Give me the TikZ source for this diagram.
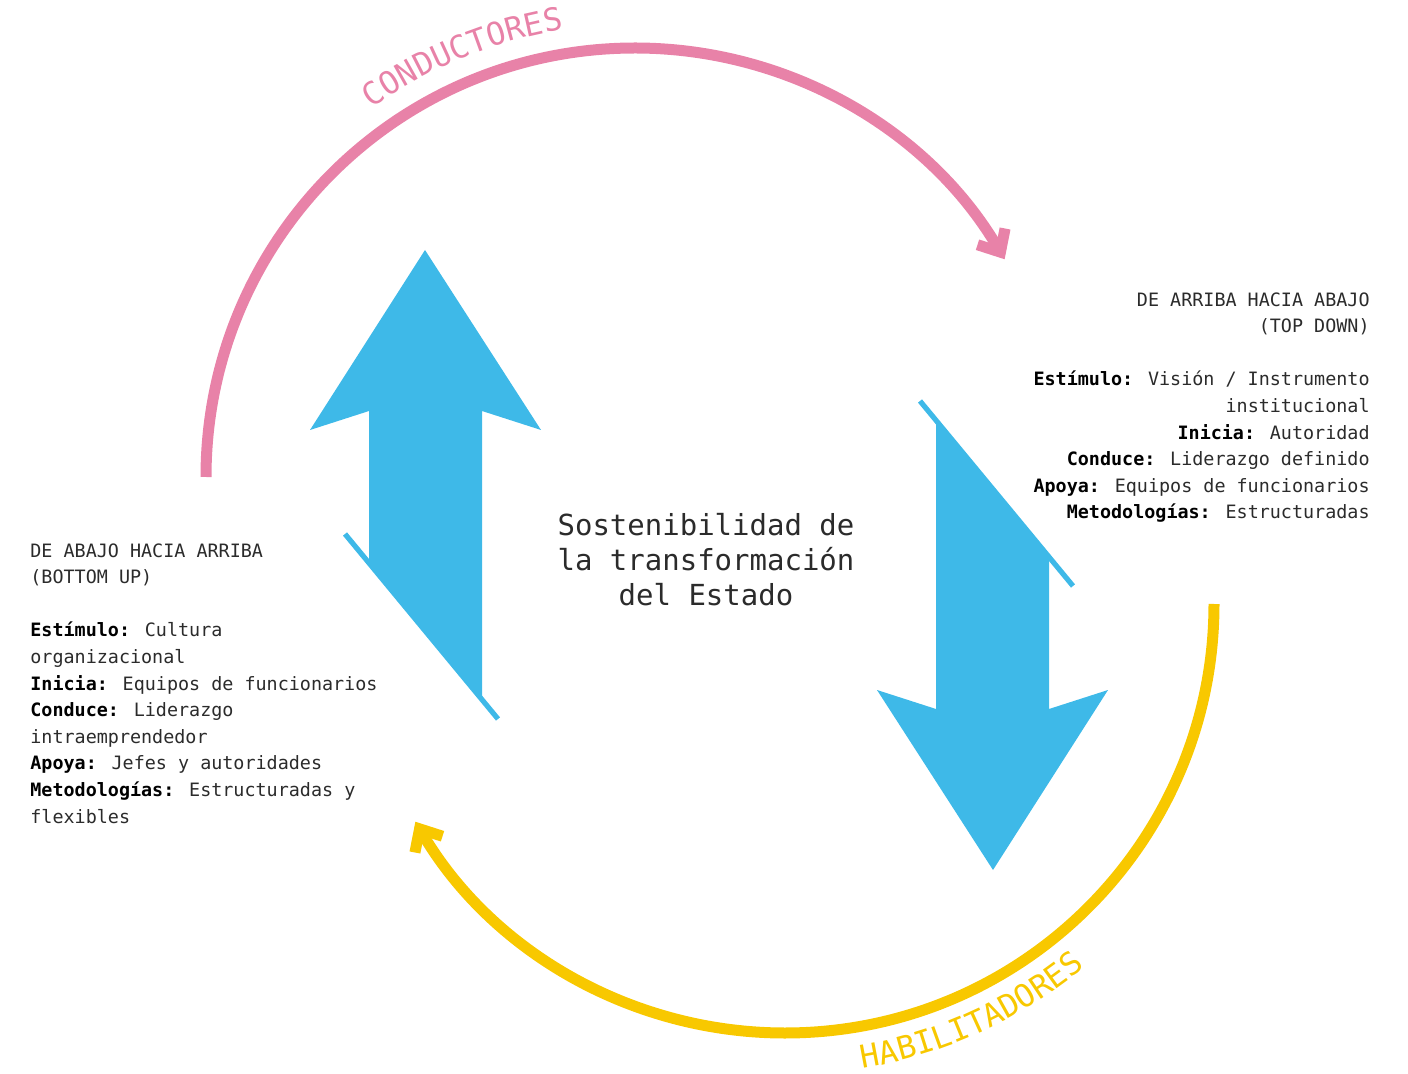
\documentclass[tikz,border=0pt]{standalone}
\usepackage{fontspec}
\setmainfont{DejaVu Sans Mono}
\usetikzlibrary{
  arrows.meta,
  decorations.text
}

\definecolor{condpink}{HTML}{E882A8}
\definecolor{habyellow}{HTML}{F8C800}
\definecolor{flowblue}{HTML}{3EB9E8}
\definecolor{inkgray}{HTML}{2B2B2B}
\newcommand{\lbl}[1]{\textcolor{black}{\textbf{#1}}}

\begin{document}
\begin{tikzpicture}[
  x=0.5pt, y=0.5pt,
  side/.style={
    font=\fontsize{9.2}{13.3}\selectfont,
    text=inkgray,
    inner sep=0pt
  },
  core/.style={
    font=\fontsize{14.5}{17.5}\selectfont,
    text=inkgray,
    align=center,
    inner sep=0pt
  },
  bigarc/.style={line width=5.5pt, -{Straight Barb[length=9pt, width=16pt]}},
  bigarrow/.style={fill=flowblue},
  cutline/.style={draw=flowblue, line width=2.6pt},
  arclabel/.style={
    decorate,
    decoration={text along path, text align=left, text={#1}}
  }
]
\useasboundingbox (0,0) rectangle (1408,-1074);

% Centres of the cycle
\coordinate (pinkc) at (635,-477);
\coordinate (yellc) at (785,-604);
\coordinate (condstart) at ([shift={(180:429)}]pinkc);
\coordinate (habstart) at ([shift={(0:429)}]yellc);

% Cycle arcs
\draw[bigarc, condpink] (condstart) arc[start angle=180, end angle=30.5, radius=429];
\draw[bigarc, habyellow] (habstart) arc[start angle=0, end angle=-149.5, radius=429];

% Arc labels
\path[arclabel={|\fontsize{15.8}{18}\selectfont\color{condpink}|CONDUCTORES}]
  ([shift={(125.5:453)}]pinkc) arc[start angle=125.5, end angle=88, radius=453];
\path[arclabel={|\fontsize{15.8}{18}\selectfont\color{habyellow}|HABILITADORES}]
  ([shift={(-80.5:471)}]yellc) arc[start angle=-80.5, end angle=-40, radius=471];

% Up arrow
\fill[bigarrow] (425,-250) -- (541,-430) -- (482,-411) -- (482,-700)
  -- (369,-563) -- (369,-411) -- (310,-430) -- cycle;
\draw[cutline] (345,-534) -- (498,-719);

% Down arrow
\fill[bigarrow] (993,-870) -- (877,-690) -- (936,-709) -- (936,-420)
  -- (1049,-557) -- (1049,-709) -- (1108,-690) -- cycle;
\draw[cutline] (1073,-586) -- (920,-401);

% Centre text
\node[core] (state) at (706,-560) {Sostenibilidad de\\la transformación\\del Estado};

% Bottom up
\node[side, anchor=north west, align=left] (bottomup) at (30,-543) {%
  DE ABAJO HACIA ARRIBA\\(BOTTOM UP)\\[13.3pt]
  \lbl{Estímulo:} Cultura\\organizacional\\
  \lbl{Inicia:} Equipos de funcionarios\\
  \lbl{Conduce:} Liderazgo\\intraemprendedor\\
  \lbl{Apoya:} Jefes y autoridades\\
  \lbl{Metodologías:} Estructuradas y\\flexibles};

% Top down
\node[side, anchor=north east, align=right] (topdown) at (1370,-292) {%
  DE ARRIBA HACIA ABAJO\\(TOP DOWN)\\[13.3pt]
  \lbl{Estímulo:} Visión / Instrumento\\institucional\\
  \lbl{Inicia:} Autoridad\\
  \lbl{Conduce:} Liderazgo definido\\
  \lbl{Apoya:} Equipos de funcionarios\\
  \lbl{Metodologías:} Estructuradas};

\end{tikzpicture}
\end{document}
